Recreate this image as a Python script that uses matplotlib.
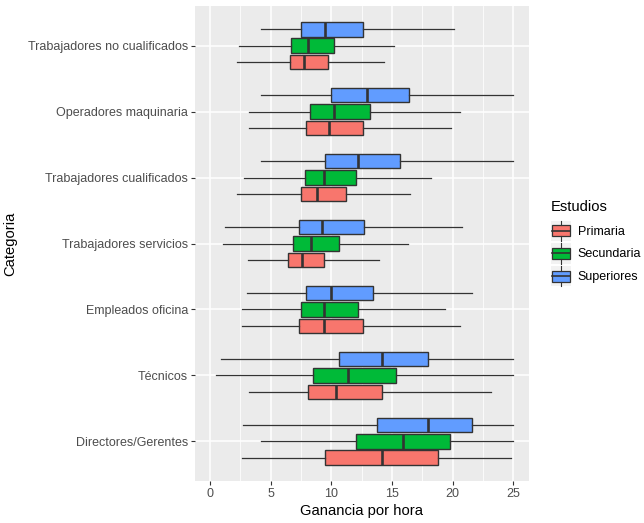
import matplotlib
matplotlib.use("Agg")
import matplotlib.pyplot as plt
from matplotlib.patches import Rectangle
from matplotlib.lines import Line2D
from matplotlib.legend_handler import HandlerBase

plt.rcParams['font.family'] = ['Liberation Sans', 'DejaVu Sans']

# Categories, bottom to top
categories = ["Directores/Gerentes", "Técnicos", "Empleados oficina",
              "Trabajadores servicios", "Trabajadores cualificados",
              "Operadores maquinaria", "Trabajadores no cualificados"]
groups = ["Primaria", "Secundaria", "Superiores"]
colors = ["#F8766D", "#00BA38", "#619CFF"]

# [whislo, q1, median, q3, whishi] per category (bottom to top)
primaria = [
    [2.6, 9.5, 14.2, 18.8, 24.8],
    [3.2, 8.1, 10.4, 14.2, 23.2],
    [2.6, 7.3, 9.4, 12.6, 20.6],
    [3.1, 6.4, 7.6, 9.4, 13.9],
    [2.2, 7.5, 8.8, 11.2, 16.5],
    [3.2, 7.9, 9.8, 12.6, 19.9],
    [2.2, 6.6, 7.7, 9.7, 14.3],
]
secundaria = [
    [4.2, 12.0, 15.9, 19.8, 25.0],
    [0.5, 8.5, 11.4, 15.3, 25.0],
    [2.6, 7.5, 9.4, 12.2, 19.4],
    [1.1, 6.8, 8.3, 10.6, 16.3],
    [2.8, 7.8, 9.4, 12.0, 18.2],
    [3.2, 8.2, 10.2, 13.2, 20.6],
    [2.4, 6.7, 8.1, 10.2, 15.2],
]
superiores = [
    [2.7, 13.8, 18.0, 21.6, 25.0],
    [0.9, 10.6, 14.2, 18.0, 25.0],
    [3.0, 7.9, 10.0, 13.4, 21.6],
    [1.2, 7.3, 9.2, 12.7, 20.8],
    [4.2, 9.5, 12.2, 15.7, 25.0],
    [4.2, 10.0, 12.9, 16.4, 25.0],
    [4.2, 7.5, 9.5, 12.6, 20.1],
]
series = [primaria, secundaria, superiores]
xticks = [0, 5, 10, 15, 20, 25]

fig = plt.figure(figsize=(6.44, 5.23), dpi=100)
W, H = 644, 523
ax = fig.add_axes([195 / W, 1 - 481 / H, (529 - 195) / W, (481 - 6) / H])
ax.set_facecolor("#EBEBEB")
for s in ax.spines.values():
    s.set_visible(False)

offsets = [-0.25, 0.0, 0.25]
bw = 0.225
for gi, data in enumerate(series):
    stats = []
    for row in data:
        lo, q1, med, q3, hi = row
        stats.append(dict(whislo=lo, q1=q1, med=med, q3=q3, whishi=hi, fliers=[]))
    pos = [i + 1 + offsets[gi] for i in range(len(categories))]
    ax.bxp(stats, positions=pos, widths=bw, vert=False, patch_artist=True,
           showcaps=False, showfliers=False, manage_ticks=False,
           boxprops=dict(facecolor=colors[gi], edgecolor="#333333", linewidth=1.0),
           medianprops=dict(color="#333333", linewidth=1.9),
           whiskerprops=dict(color="#333333", linewidth=0.9),
           zorder=3)

ax.set_xlim(-1.25, 26.3)
ax.set_ylim(0.4, 7.6)
ax.set_xticks(xticks)
ax.set_xticks([2.5, 7.5, 12.5, 17.5, 22.5], minor=True)
ax.set_yticks(range(1, len(categories) + 1))
ax.set_yticklabels(categories)
ax.grid(True, which="major", color="white", linewidth=1.1, zorder=0)
ax.grid(True, which="minor", axis="x", color="white", linewidth=0.55, zorder=0)
ax.set_axisbelow(True)
ax.tick_params(axis="both", which="major", colors="#333333", labelcolor="#4D4D4D",
               labelsize=9, length=3, width=0.8, pad=2)
ax.tick_params(axis="both", which="minor", length=0)
ax.set_xlabel("Ganancia por hora", fontsize=10.6, color="black", labelpad=3)
ax.set_ylabel("Categoria", fontsize=10.6, color="black", labelpad=7.5)


class BoxHandler(HandlerBase):
    def create_artists(self, legend, orig_handle, xdescent, ydescent, width, height,
                       fontsize, trans):
        color = orig_handle.get_facecolor()
        x0, y0 = -xdescent, -ydescent
        bg = Rectangle((x0, y0), width, height, facecolor="#F2F2F2", edgecolor="none",
                       transform=trans)
        bx = Rectangle((x0 + width * 0.07, y0 + height * 0.22), width * 0.86, height * 0.56,
                       facecolor=color, edgecolor="#333333", linewidth=0.9, transform=trans)
        med = Line2D([x0 + width * 0.07, x0 + width * 0.93], [y0 + height / 2] * 2,
                     color="#333333", linewidth=1.2, transform=trans)
        w1 = Line2D([x0 + width / 2] * 2, [y0 + height * 0.78, y0 + height],
                    color="#333333", linewidth=0.8, transform=trans)
        w2 = Line2D([x0 + width / 2] * 2, [y0, y0 + height * 0.22],
                    color="#333333", linewidth=0.8, transform=trans)
        return [bg, bx, med, w1, w2]


handles = [Rectangle((0, 0), 1, 1, facecolor=c) for c in colors]
leg = fig.legend(handles, groups, handler_map={Rectangle: BoxHandler()},
                 loc="center left", bbox_to_anchor=(551 / W, 1 - 243 / H),
                 frameon=False, title="Estudios", fontsize=9,
                 title_fontsize=10.6, handlelength=1.6, handleheight=2.1,
                 labelspacing=0.22, handletextpad=0.55, alignment="left",
                 borderaxespad=0, borderpad=0)
leg._legend_box.sep = 5
for t in leg.get_texts():
    t.set_color("black")

fig.savefig("out.png", dpi=100)
